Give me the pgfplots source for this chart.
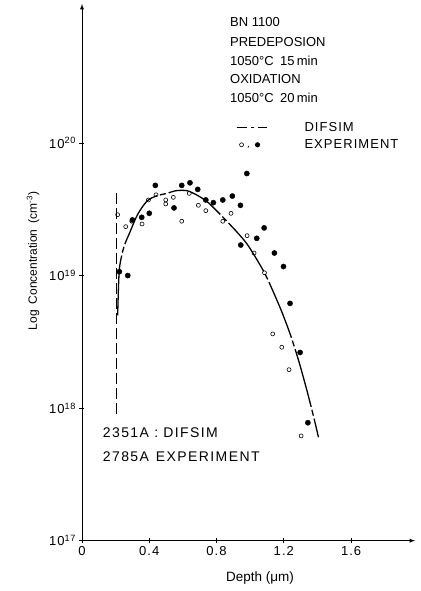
\documentclass[border=0pt]{standalone}
\usepackage{pgfplots}
\pgfplotsset{compat=1.18}
\usepackage{fontspec}
\setmainfont{Liberation Sans}
\newfontfamily\spaced[LetterSpace=8]{Liberation Sans}
\newfontfamily\widespaced[LetterSpace=10]{Liberation Sans}
\begin{document}
\begin{tikzpicture}
\useasboundingbox (-82pt,-50.3pt) rectangle (338pt,540.7pt);
\begin{axis}[
  at={(0pt,0pt)}, anchor=south west,
  scale only axis, width=333pt, height=536.7pt,
  xmin=0, xmax=1.98, ymode=log, ymin=1e17, ymax=1.12e21,
  enlargelimits=false,
  axis lines=left, axis line style={line width=0.9pt, -latex},
  xtick={0,0.4,0.8,1.2,1.6}, xticklabels={0,0.4,0.8,1.2,1.6},
  ytick={1e17,1e18,1e19,1e20},
  yticklabels={10\textsuperscript{17},10\textsuperscript{18},10\textsuperscript{19},10\textsuperscript{20}},
  minor y tick style={draw=none},
  tick style={line width=0.8pt, black}, major tick length=5pt,
  tick label style={font=\spaced\fontsize{13}{15}\selectfont},
  xlabel={Depth (μm)},
  x label style={at={(axis description cs:0.5345,-0.0695)}, anchor=center, font=\fontsize{13.5}{15}\selectfont},
  ylabel={Log\enspace Concentration\enspace (cm\textsuperscript{-3})},
  y label style={at={(axis description cs:-0.147,0.521)}, anchor=center, font=\fontsize{12}{14}\selectfont},
  legend style={draw=none, fill=none, inner sep=0pt, row sep=3pt,
    at={(axis description cs:0.462,0.754)}, anchor=west,
    font=\spaced\fontsize{13}{15}\selectfont},
  legend cell align=left,
]
\addlegendimage{legend image code/.code={
  \draw[line width=1pt] (0pt,0pt) -- (10pt,0pt);
  \draw[line width=1pt] (14pt,0pt) -- (17pt,0pt);
  \draw[line width=1pt] (21pt,0pt) -- (30pt,0pt);
  \path[draw=none, fill=none] (0pt,0pt) -- (66pt,0pt);}}
\addlegendentry{DIFSIM}
\addlegendimage{legend image code/.code={
  \draw[line width=0.6pt, fill=none] (5pt,0pt) circle (2pt);
  \fill[draw=none] (11.5pt,-1pt) -- (12.6pt,-1pt) -- (11.3pt,-3.5pt) -- cycle;
  \fill[draw=none] (21pt,0pt) circle (2.6pt);
  \path[draw=none, fill=none] (0pt,0pt) -- (66pt,0pt);}}
\addlegendentry{EXPERIMENT}

% vertical dashed line (DIFSIM surface)
\addplot[forget plot, black, line width=1.3pt, dash pattern=on 11pt off 4pt] coordinates {
  (0.206,4.17e19) (0.206,9.1e17)};

% DIFSIM curve
\addplot[forget plot, black, line width=1.3pt, smooth, dash pattern=on 60pt off 3pt on 6pt off 3pt] coordinates {
  (0.212,5.01e18) (0.218,8.91e18) (0.225,1.20e19) (0.25,1.66e19) (0.286,2.14e19)
  (0.33,2.88e19) (0.385,3.63e19) (0.44,3.98e19) (0.504,4.17e19) (0.56,4.37e19)
  (0.623,4.37e19) (0.68,4.07e19) (0.742,3.63e19) (0.80,3.09e19) (0.861,2.57e19)
  (0.92,2.14e19) (0.98,1.74e19) (1.04,1.32e19) (1.09,1.02e19) (1.14,7.41e18)
  (1.19,5.25e18) (1.24,3.55e18) (1.29,2.24e18) (1.34,1.32e18) (1.38,8.32e17)
  (1.406,6.03e17)};

% experiment, open circles
\addplot[forget plot, only marks, mark=o, mark size=2pt, mark options={line width=0.6pt, black}] coordinates {
  (0.212,2.88e19) (0.260,2.34e19) (0.296,2.57e19) (0.357,2.45e19) (0.395,3.72e19)
  (0.440,4.07e19) (0.498,3.72e19) (0.498,3.47e19) (0.543,3.89e19) (0.593,2.57e19)
  (0.638,4.17e19) (0.692,3.39e19) (0.736,3.09e19) (0.837,2.57e19) (0.886,2.95e19)
  (0.982,2.00e19) (1.023,1.48e19) (1.085,1.05e19) (1.134,3.63e18) (1.188,2.88e18)
  (1.231,1.95e18) (1.303,6.17e17)};

% experiment, filled circles
\addplot[forget plot, only marks, mark=*, mark size=2.6pt, mark options={black, fill=black}] coordinates {
  (0.222,1.07e19) (0.272,1.00e19) (0.300,2.63e19) (0.355,2.75e19) (0.400,2.95e19)
  (0.436,4.79e19) (0.547,3.24e19) (0.593,4.79e19) (0.642,5.01e19) (0.688,4.47e19)
  (0.736,3.72e19) (0.781,3.55e19) (0.837,3.72e19) (0.894,3.98e19) (0.942,3.39e19)
  (0.980,5.89e19) (1.039,1.91e19) (0.944,1.70e19) (1.083,2.29e19) (1.144,1.48e19)
  (1.198,1.17e19) (1.237,6.17e18) (1.297,2.63e18) (1.343,7.76e17)};

\begin{scope}[font=\fontsize{13}{15}\selectfont]
\node[anchor=base west, inner sep=0pt] at (axis description cs:0.4444,0.9571) {BN 1100};
\node[anchor=base west, inner sep=0pt] at (axis description cs:0.4444,0.9199) {PREDEPOSION};
\node[anchor=base west, inner sep=0pt] at (axis description cs:0.4444,0.8845) {1050°C\enspace 15\,min};
\node[anchor=base west, inner sep=0pt] at (axis description cs:0.4444,0.8509) {OXIDATION};
\node[anchor=base west, inner sep=0pt] at (axis description cs:0.4444,0.8155) {1050°C\enspace 20\,min};
\end{scope}
\begin{scope}[font=\widespaced\fontsize{14}{16}\selectfont]
\node[anchor=base west, inner sep=0pt] at (axis description cs:0.0622,0.1914) {2351A : DIFSIM};
\node[anchor=base west, inner sep=0pt] at (axis description cs:0.0622,0.1466) {2785A\enspace EXPERIMENT};
\end{scope}
\end{axis}
\end{tikzpicture}
\end{document}
